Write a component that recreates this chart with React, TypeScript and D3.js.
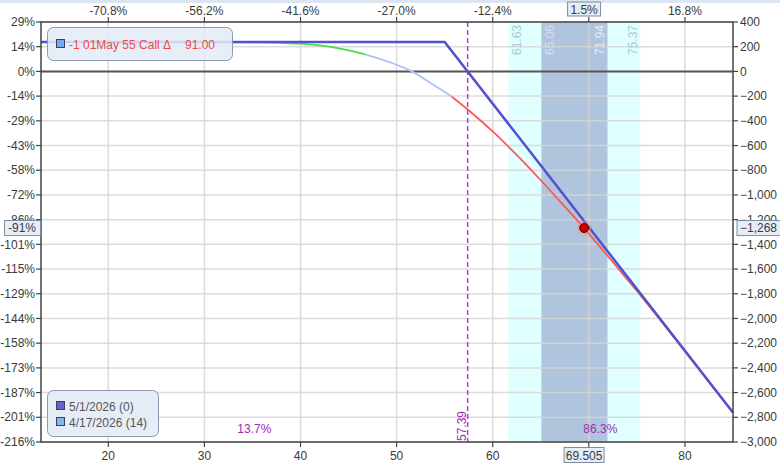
import React from "react";
import * as d3 from "d3";

// price axis
const xTicks = [20, 30, 40, 50, 60, 70, 80];
const topLabels = ["-70.8%", "-56.2%", "-41.6%", "-27.0%", "-12.4%", "", "16.8%"];
const bottomLabels = ["20", "30", "40", "50", "60", "", "80"];

// P&L axis
const yTicks = [400, 200, 0, -200, -400, -600, -800, -1000, -1200, -1400, -1600, -1800, -2000, -2200, -2400, -2600, -2800, -3000];
const leftLabels = ["29%", "14%", "0%", "-14%", "-29%", "-43%", "-58%", "-72%", "-86%", "-101%", "-115%", "-129%", "-144%", "-158%", "-173%", "-187%", "-201%", "-216%"];

// expiry line (5/1/2026)
const expiryPrice = [13, 55, 85];
const expiryPnl = [239, 239, -2761];

// T+0 line (4/17/2026)
const t0Price = [13, 30, 35, 38, 40, 42, 43.4, 45, 46.7, 48, 49.3, 50.5, 51.6, 52.6, 53.65, 55.73, 57.45, 58.67, 60, 62, 64.9, 67, 69.505, 72.2, 75, 78, 80, 82.5, 85];
const t0Pnl = [239, 238, 235, 231, 225, 210, 195, 170, 138, 108, 74, 38, 0, -48, -100, -205, -312, -393, -486, -638, -873, -1052, -1268, -1515, -1778, -2069, -2266, -2515, -2763];
const t0Breaks = [46.7, 55.73];

const outerBand = [61.63, 75.37];
const innerBand = [65.06, 71.94];
const breakeven = 57.39;
const currentPrice = 69.505;
const currentPnl = -1268;
const currentPct = "-91%";
const currentMove = "1.5%";
const probLeft = "13.7%";
const probRight = "86.3%";

const positionLabel = "-1 01May 55 Call Δ";
const positionDelta = "91.00";
const legendNames = ["5/1/2026 (0)", "4/17/2026 (14)"];

const W = 780;
const H = 465;
const L = 41, R = 733, T = 22, B = 442;
const FONT = "'Liberation Sans', Arial, sans-serif";

export default function App() {
  const x = d3.scaleLinear().domain([13, 85]).range([L, R]);
  const y = d3.scaleLinear().domain([400, -3000]).range([T, B]);
  const fmt = d3.format(",");

  const smooth = d3
    .line<[number, number]>()
    .x((d) => x(d[0]))
    .y((d) => y(d[1]))
    .curve(d3.curveMonotoneX);
  const straight = d3
    .line<[number, number]>()
    .x((d) => x(d[0]))
    .y((d) => y(d[1]));

  const expiryPts: [number, number][] = expiryPrice.map((p, i) => [p, expiryPnl[i]]);
  const t0Pts: [number, number][] = t0Price.map((p, i) => [p, t0Pnl[i]]);
  const t0Path = smooth(t0Pts) || "";
  const edges = [13, ...t0Breaks, 85];
  const segColors = ["#4cdc4c", "#a9c4f2", "#ff5656"];

  const bandLabels = [
    { v: outerBand[0], dx: 8.5, c: "#a8cad6" },
    { v: innerBand[0], dx: 8.5, c: "#d6e0ee" },
    { v: innerBand[1], dx: -7.5, c: "#e6ecf5" },
    { v: outerBand[1], dx: -7.5, c: "#a8cad6" },
  ];

  const tickText = { fontFamily: FONT, fontSize: 12, fill: "#3a3a3a" } as const;

  return (
    <div style={{ position: "absolute", left: 0, top: 0 }}>
      <svg width={W} height={H} style={{ display: "block", background: "#fff" }}>
        <defs>
          {segColors.map((c, i) => (
            <clipPath key={"cp" + i} id={"t0clip" + i}>
              <rect x={x(edges[i])} y={0} width={x(edges[i + 1]) - x(edges[i])} height={H} />
            </clipPath>
          ))}
        </defs>
        <rect x={0} y={0} width={W} height={3} fill="#dce6f2" />

        {/* bands */}
        <rect x={x(outerBand[0])} y={T} width={x(outerBand[1]) - x(outerBand[0])} height={B - T} fill="#e0ffff" />
        <rect x={x(innerBand[0])} y={T} width={x(innerBand[1]) - x(innerBand[0])} height={B - T} fill="#b0c4de" />

        {/* grid */}
        {yTicks.map((t) => (
          <line key={"gy" + t} x1={L} x2={R} y1={y(t)} y2={y(t)} stroke="#d6d6d6" strokeOpacity={0.85} strokeWidth={1.5} />
        ))}
        {xTicks.map((t) => (
          <line key={"gx" + t} x1={x(t)} x2={x(t)} y1={T} y2={B} stroke="#d6d6d6" strokeOpacity={0.85} strokeWidth={1.5} />
        ))}

        {/* band labels */}
        {bandLabels.map((b) => (
          <text
            key={"bl" + b.v}
            transform={`translate(${x(b.v) + b.dx},${T + 3}) rotate(-90)`}
            textAnchor="end"
            dy="0.35em"
            style={{ fontFamily: FONT, fontSize: 12, fill: b.c }}
          >
            {b.v.toFixed(2)}
          </text>
        ))}

        {/* zero line */}
        <line x1={L} x2={R} y1={y(0)} y2={y(0)} stroke="#555" strokeWidth={2} />

        {/* breakeven */}
        <line x1={x(breakeven)} x2={x(breakeven)} y1={T} y2={B} stroke="#b040c8" strokeWidth={1.5} strokeDasharray="5,3" />
        <text
          transform={`translate(${x(breakeven) - 2},${B - 1}) rotate(-90)`}
          style={{ fontFamily: FONT, fontSize: 12, fill: "#a02cb0" }}
        >
          {breakeven.toFixed(2)}
        </text>
        <text x={x((13 + breakeven) / 2)} y={433} textAnchor="middle" style={{ fontFamily: FONT, fontSize: 12, fill: "#a02cb0" }}>
          {probLeft}
        </text>
        <text x={x((85 + breakeven) / 2)} y={433} textAnchor="middle" style={{ fontFamily: FONT, fontSize: 12, fill: "#a02cb0" }}>
          {probRight}
        </text>

        {/* T+0 line */}
        {segColors.map((c, i) => (
          <path key={"seg" + i} d={t0Path} fill="none" stroke={c} strokeWidth={1.8} clipPath={`url(#t0clip${i})`} />
        ))}

        {/* expiry line */}
        <path d={straight(expiryPts) || ""} fill="none" stroke="#5252cc" strokeWidth={2.5} />

        {/* current point */}
        <circle cx={x(currentPrice)} cy={y(currentPnl)} r={7.5} fill="#ff8a60" opacity={0.3} />
        <circle cx={x(currentPrice)} cy={y(currentPnl)} r={4.5} fill="#c40000" stroke="#6a0000" strokeWidth={1} />

        {/* frame */}
        <rect x={L} y={T} width={R - L} height={B - T} fill="none" stroke="#444" strokeWidth={1.5} />

        {/* left axis */}
        {yTicks.map((t, i) => (
          <g key={"la" + t}>
            <line x1={L - 5} x2={L} y1={y(t)} y2={y(t)} stroke="#444" strokeWidth={1.2} />
            <text x={L - 6} y={y(t)} dy="0.35em" textAnchor="end" style={tickText}>
              {leftLabels[i]}
            </text>
          </g>
        ))}

        {/* right axis */}
        {yTicks.map((t) => (
          <g key={"ra" + t}>
            <line x1={R} x2={R + 5} y1={y(t)} y2={y(t)} stroke="#444" strokeWidth={1.2} />
            <text x={R + 7} y={y(t)} dy="0.35em" textAnchor="start" style={tickText}>
              {fmt(t)}
            </text>
          </g>
        ))}

        {/* top axis */}
        {xTicks.map((t, i) => (
          <g key={"ta" + t}>
            <line x1={x(t)} x2={x(t)} y1={T - 5} y2={T} stroke="#444" strokeWidth={1.2} />
            <text x={x(t)} y={15} textAnchor="middle" style={tickText}>
              {topLabels[i]}
            </text>
          </g>
        ))}

        {/* bottom axis */}
        {xTicks.map((t, i) => (
          <g key={"ba" + t}>
            <line x1={x(t)} x2={x(t)} y1={B} y2={B + 5} stroke="#444" strokeWidth={1.2} />
            <text x={x(t)} y={460} textAnchor="middle" style={tickText}>
              {bottomLabels[i]}
            </text>
          </g>
        ))}

        {/* current value boxes */}
        <rect x={x(currentPrice) - 16.5} y={2} width={33} height={14} fill="#e6edf6" stroke="#7d8ca3" />
        <text x={x(currentPrice)} y={13.5} textAnchor="middle" style={tickText}>{currentMove}</text>
        <rect x={x(currentPrice) - 20} y={447.5} width={40} height={15} fill="#e6edf6" stroke="#7d8ca3" />
        <text x={x(currentPrice)} y={459.5} textAnchor="middle" style={tickText}>{currentPrice}</text>
        <rect x={4.5} y={y(currentPnl) - 7.5} width={L - 5} height={15} fill="#e6edf6" stroke="#7d8ca3" />
        <text x={L - 5} y={y(currentPnl)} dy="0.35em" textAnchor="end" style={tickText}>{currentPct}</text>
        <rect x={R + 4} y={y(currentPnl) - 7.5} width={46} height={15} fill="#e6edf6" stroke="#7d8ca3" />
        <text x={R + 7} y={y(currentPnl)} dy="0.35em" style={tickText}>{fmt(currentPnl)}</text>

        {/* position legend */}
        <rect x={47.5} y={27.5} width={185} height={33} rx={6} fill="#e3ebf6" fillOpacity={0.85} stroke="#8a9ab2" />
        <rect x={56.5} y={39.5} width={8} height={8} fill="#78a8f0" stroke="#3c4060" />
        <text x={69} y={48.5} style={{ fontFamily: FONT, fontSize: 12, fill: "#f04848" }}>{positionLabel}</text>
        <text x={215} y={48.5} textAnchor="end" style={{ fontFamily: FONT, fontSize: 12, fill: "#f04848" }}>{positionDelta}</text>

        {/* date legend */}
        <rect x={47.5} y={390.5} width={111} height={46} rx={6} fill="#e3ebf6" fillOpacity={0.9} stroke="#8a9ab2" />
        <rect x={56.5} y={401.5} width={8} height={8} fill="#6a60cc" stroke="#3c4060" />
        <text x={69} y={410.5} style={{ fontFamily: FONT, fontSize: 12, fill: "#555" }}>{legendNames[0]}</text>
        <rect x={56.5} y={417.5} width={8} height={8} fill="#88b4f0" stroke="#3c4060" />
        <text x={69} y={426.5} style={{ fontFamily: FONT, fontSize: 12, fill: "#555" }}>{legendNames[1]}</text>
      </svg>
    </div>
  );
}
